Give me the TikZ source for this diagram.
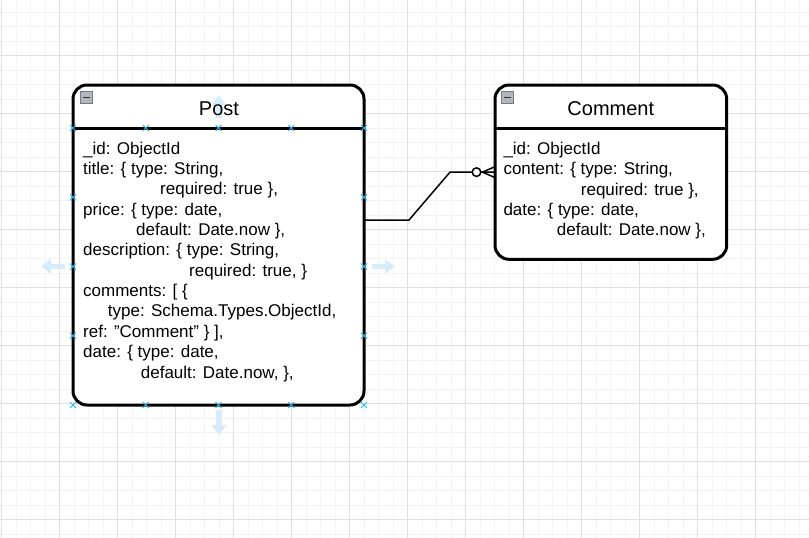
\documentclass[tikz,border=0pt]{standalone}
\usepackage{fontspec}
\setmainfont{Liberation Sans}
\usetikzlibrary{arrows.meta,calc,shapes.misc}
\definecolor{gridminor}{RGB}{243,243,243}
\definecolor{gridmajor}{RGB}{224,224,224}
\definecolor{handleblue}{RGB}{41,182,242}
\definecolor{hoverblue}{RGB}{214,236,250}
\definecolor{iconfill}{RGB}{178,182,190}
\definecolor{icondraw}{RGB}{118,122,130}

\begin{document}
\begin{tikzpicture}[x=1pt, y=-1pt,
	entity/.style={draw, fill=white, line width=3pt, rounded corners=14pt, inner sep=0pt, outer sep=0pt},
	entitytitle/.style={anchor=base, inner sep=0pt, font=\fontsize{20pt}{24pt}\selectfont},
	attrs/.style={anchor=base west, align=left, inner sep=0pt, font=\fontsize{17pt}{20.34pt}\selectfont},
	icon/.style={draw=icondraw, fill=iconfill, minimum size=11.5pt, inner sep=0pt, line width=0.6pt,
		path picture={\draw[line width=1.4pt, black!80] ([xshift=2.3pt]path picture bounding box.west) -- ([xshift=-2.3pt]path picture bounding box.east);}},
	handle/.style={cross out, draw=handleblue, minimum size=5pt, inner sep=0pt, line width=1pt},
	hover/.style={color=hoverblue, line width=5.5pt, -{Triangle[width=14pt,length=10pt]}},
	conn/.style={line width=1.5pt}]

			% Fix the size and draw the grid
			\useasboundingbox[fill=white] (0,0) rectangle (809,538);
			\foreach \i in {0,...,55} \draw[gridminor] ({1.3+14.5*\i},0) -- ({1.3+14.5*\i},538);
			\foreach \i in {0,...,36} \draw[gridminor] (0,{11.8+14.5*\i}) -- (809,{11.8+14.5*\i});
			\foreach \i in {0,...,13} \draw[gridmajor] ({1.3+58*\i},0) -- ({1.3+58*\i},538);
			\foreach \i in {0,...,8} \draw[gridmajor] (0,{55.3+58*\i}) -- (809,{55.3+58*\i});

			% Draw the two entities and their header lines
			\node[entity, minimum width=291pt, minimum height=320pt] (post) at (218.5,245) {};
			\node[entity, minimum width=231.7pt, minimum height=174.3pt] (cmt) at (610.85,172.15) {};
			\draw[line width=3pt] ([yshift=-43pt]post.north west) -- ([yshift=-43pt]post.north east);
			\draw[line width=3pt] ([yshift=-43pt]cmt.north west) -- ([yshift=-43pt]cmt.north east);

			% Draw the hover arrows round the selected shape
			\draw[hover] (219,118) -- (219,95);
			\draw[hover] (219,410) -- (219,435);
			\draw[hover] (65,266.5) -- (41,266.5);
			\draw[hover] (372,266.5) -- (395,266.5);

			% Collapse icons and titles
			\node[icon] (posticon) at (86.5,97.5) {};
			\node[icon] (cmticon) at (507.5,97.5) {};
			\node[entitytitle] (posttitle) at (219,115) {Post};
			\node[entitytitle] (cmttitle) at (610.8,115) {Comment};

			% The fields (anchored at the baseline of the last line)
			\node[attrs] (postattr) at (83,378) {\_id: ObjectId\\
				title: \{ type: String,\\
				\hspace*{77pt}required: true \},\\
				price: \{ type: date,\\
				\hspace*{53pt}default: Date.now \},\\
				description: \{ type: String,\\
				\hspace*{106pt}required: true, \}\\
				comments: [ \{\\
				\hspace*{24.7pt}type: Schema.Types.ObjectId,\\
				ref: \char34 Comment\char34\ \} ],\\
				date: \{ type: date,\\
				\hspace*{57.7pt}default: Date.now, \},};
			\node[attrs] (cmtattr) at (503.3,235.7) {\_id: ObjectId\\
				content: \{ type: String,\\
				\hspace*{77.4pt}required: true \},\\
				date: \{ type: date,\\
				\hspace*{53.4pt}default: Date.now \},};

			% Draw the relation (zero or many)
			\draw[conn] ([yshift=25pt]post.east) -- ++(45,0) -- ($(cmt.west)+(-45,0)$) -- (cmt.west);
			\draw[conn, fill=white] ($(cmt.west)+(-18.5,0)$) circle (4.3);
			\draw[conn] ($(cmt.west)+(-12.5,0)$) -- ($(cmt.west)+(0,-5.5)$);
			\draw[conn] ($(cmt.west)+(-12.5,0)$) -- ($(cmt.west)+(0,5.5)$);

			% Selection handles
			\foreach \x [count=\i] in {73,145.75,218.5,291.25,364} {
				\node[handle] (htop\i) at (\x,128) {};
				\node[handle] (hbot\i) at (\x,405) {};
			}
			\foreach \y [count=\i] in {197.25,266.5,335.75} {
				\node[handle] (hleft\i) at (73,\y) {};
				\node[handle] (hright\i) at (364,\y) {};
			}
\end{tikzpicture}
\end{document}
